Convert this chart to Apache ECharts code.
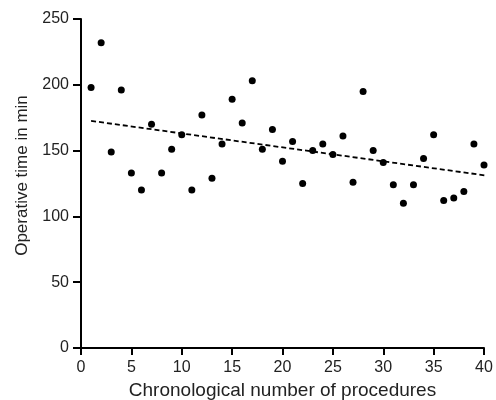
<!DOCTYPE html>
<html>
<head>
<meta charset="utf-8">
<script src="https://cdn.jsdelivr.net/npm/echarts@6/dist/echarts.min.js"></script>
<style>
  html, body { margin: 0; padding: 0; background: #fff; }
  #chart { width: 496px; height: 400px; }
</style>
</head>
<body>
<div id="chart"></div>
<script>
// procedure number 1..40 and operative time (min)
const procedureNo = [
  1, 2, 3, 4, 5, 6, 7, 8, 9, 10,
  11, 12, 13, 14, 15, 16, 17, 18, 19, 20,
  21, 22, 23, 24, 25, 26, 27, 28, 29, 30,
  31, 32, 33, 34, 35, 36, 37, 38, 39, 40,
];
const operativeTime = [
  198, 232, 149, 196, 133, 120, 170, 133, 151, 162,
  120, 177, 129, 155, 189, 171, 203, 151, 166, 142,
  157, 125, 150, 155, 147, 161, 126, 195, 150, 141,
  124, 110, 124, 144, 162, 112, 114, 119, 155, 139,
];
// linear trend, drawn a bit past the last procedure like the original
const trendX = [1, 41.2];
const trendY = [172.6, 130.0];

const axisColor = "#000";
const textColor = "#222";
const font = "Liberation Sans, Arial, sans-serif";

const chart = echarts.init(document.getElementById("chart"));

chart.setOption({
  animation: false,
  grid: { left: 81, right: 12, top: 19, bottom: 52, outerBoundsMode: "none" },
  xAxis: {
    type: "value",
    min: 0,
    max: 40,
    interval: 5,
    name: "Chronological number of procedures",
    nameLocation: "middle",
    nameGap: 33,
    nameTextStyle: { color: textColor, fontSize: 19, fontFamily: font },
    axisLine: { onZero: false, lineStyle: { color: axisColor, width: 2 } },
    axisTick: { show: true, length: 7, lineStyle: { color: axisColor, width: 2 } },
    axisLabel: { color: textColor, fontSize: 16, fontFamily: font, margin: 12 },
    splitLine: { show: false },
  },
  yAxis: {
    type: "value",
    min: 0,
    max: 250,
    interval: 50,
    name: "Operative time in min",
    nameLocation: "middle",
    nameGap: 50,
    nameTextStyle: { color: textColor, fontSize: 17, fontFamily: font, padding: [0, 0, 0, 16] },
    axisLine: { show: true, onZero: false, lineStyle: { color: axisColor, width: 2 } },
    axisTick: { show: true, length: 8, lineStyle: { color: axisColor, width: 2 } },
    axisLabel: { color: textColor, fontSize: 16, fontFamily: font, margin: 12 },
    splitLine: { show: false },
  },
  series: [
    {
      type: "line",
      data: trendX.map((x, i) => [x, trendY[i]]),
      showSymbol: false,
      clip: false,
      lineStyle: { color: "#000", width: 1.8, type: [5, 3] },
      z: 1,
    },
    {
      type: "scatter",
      data: procedureNo.map((x, i) => [x, operativeTime[i]]),
      symbolSize: 7,
      itemStyle: { color: "#000", opacity: 1 },
      z: 2,
    },
  ],
});
</script>
</body>
</html>
